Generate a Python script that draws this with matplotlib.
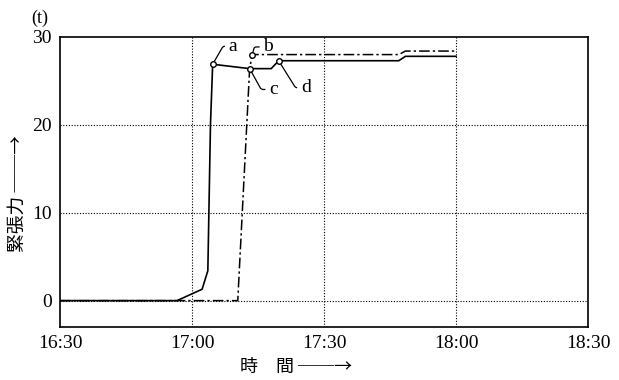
import matplotlib
matplotlib.use("Agg")
import matplotlib.pyplot as plt

# time in minutes after 16:30
solid_t = [0, 26.6, 32.3, 33.6, 34.2, 34.7, 43.1, 48.0, 49.7, 77.0, 78.5, 90.0]
solid_y = [0, 0, 1.3, 3.4, 20.1, 26.9, 26.4, 26.4, 27.3, 27.3, 27.8, 27.8]
dash_t = [0, 40.4, 43.1, 43.7, 77.0, 78.5, 90.0]
dash_y = [0, 0, 26.4, 28.0, 28.0, 28.4, 28.4]

# labelled points
pt_labels = ["a", "b", "c", "d"]
pt_t = [34.7, 43.7, 43.1, 49.7]
pt_y = [26.9, 28.0, 26.4, 27.3]

xticks = [0, 30, 60, 90, 120]
xticklabels = ["16:30", "17:00", "17:30", "18:00", "18:30"]
yticks = [0, 10, 20, 30]

serif = "Liberation Serif"
cjk = ["Noto Sans CJK JP", "DejaVu Sans"]

fig = plt.figure(figsize=(6.19, 3.80), dpi=100)
ax = fig.add_axes([60/619, 1 - 327/380, 528/619, 290/380])

ax.plot(solid_t, solid_y, color="black", lw=1.2, zorder=3)
ax.plot(dash_t, dash_y, color="black", lw=1.1, linestyle=(0, (7, 2, 1.5, 2)), zorder=3)

# label style: text offset (points) and leader angle at the point
styles = {"a": ((11.5, 13), 60), "b": ((8, 5.5), 75),
          "c": ((14, -15), -61), "d": ((16, -19.5), -58)}
for lab, t, y in zip(pt_labels, pt_t, pt_y):
    (ox, oy), ang = styles[lab]
    ax.annotate(lab, xy=(t, y), xytext=(ox, oy), textcoords="offset points",
                fontsize=14, family=serif, ha="left", va="center",
                arrowprops=dict(arrowstyle="-", color="black", lw=0.9,
                                shrinkA=1, shrinkB=2,
                                connectionstyle=f"angle,angleA=0,angleB={ang},rad=2"),
                zorder=5)
ax.plot(pt_t, pt_y, linestyle="none", marker="o", markersize=4,
        markerfacecolor="white", markeredgecolor="black", markeredgewidth=1.0, zorder=6)

ax.set_xlim(0, 120)
ax.set_ylim(-3, 30)
ax.set_xticks(xticks)
ax.set_xticklabels(xticklabels)
ax.set_yticks(yticks)
ax.tick_params(length=0, labelsize=14, pad=6)
for lbl in ax.get_xticklabels() + ax.get_yticklabels():
    lbl.set_family(serif)

for t in xticks[1:-1]:
    ax.axvline(t, color="black", lw=0.8, linestyle=(0, (1, 1.5)), zorder=1)
for y in yticks[:-1]:
    ax.axhline(y, color="black", lw=0.8, linestyle=(0, (1, 1.5)), zorder=1)

for s in ax.spines.values():
    s.set_linewidth(1.2)

fig.text(40/619, 1 - 18/380, "(t)", fontsize=13, family=serif, ha="center", va="center")
fig.text(17/619, 1 - 194/380, "緊張力 ──→", fontsize=13.5, family=cjk,
         rotation=90, ha="center", va="center")
fig.text(296/619, 1 - 367/380, "時　間 ──→", fontsize=13, family=cjk,
         ha="center", va="center")

fig.savefig("out.png", dpi=100)
